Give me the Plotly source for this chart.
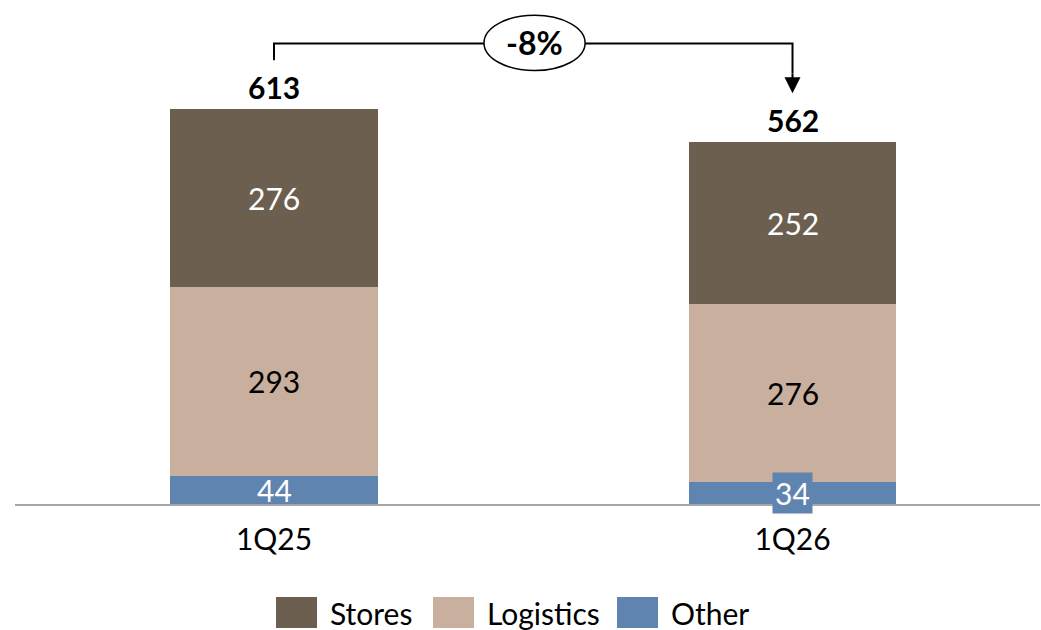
import plotly.graph_objects as go

# Quarterly breakdown by segment
quarters = ["1Q25", "1Q26"]
segments = ["Other", "Logistics", "Stores"]          # stacking order, bottom to top
other = [44, 34]
logistics = [293, 276]
stores = [276, 252]
totals = [613, 562]

colors = {"Stores": "#6C5F4F", "Logistics": "#C8AF9E", "Other": "#5F84B0"}
label_colors = {"Stores": "white", "Logistics": "black", "Other": "white"}
values = {"Other": other, "Logistics": logistics, "Stores": stores}

FONT = "Lato, 'Open Sans', sans-serif"
W, H = 1041, 630
ML, MR, MT, MB = 15, 1, 0, 126
PX_PER_UNIT = 0.644
BAR_W = 0.401

fig = go.Figure()
for name in segments:
    fig.add_trace(go.Bar(
        x=quarters, y=values[name], name=name,
        marker=dict(color=colors[name], line=dict(width=0)),
        width=BAR_W, showlegend=False, hoverinfo="skip",
    ))

# segment value labels, centred in each block; thin blocks get a
# matching background so the label stays readable past the edges
for i, q in enumerate(quarters):
    base = 0
    for name in segments:
        v = values[name][i]
        thin = v * PX_PER_UNIT < 25
        fig.add_annotation(
            x=q, y=base + v / 2, text=str(v), showarrow=False,
            font=dict(family=FONT, size=30, color=label_colors[name]),
            bgcolor=colors[name] if thin else None, borderpad=2 if thin else 0,
            xanchor="center", yanchor="middle",
        )
        base += v

# totals above each bar
for i, q in enumerate(quarters):
    fig.add_annotation(
        x=q, y=totals[i], text=f"<b>{totals[i]}</b>", showarrow=False,
        font=dict(family=FONT, size=30, color="black"),
        xanchor="center", yanchor="bottom", yshift=2,
    )

# change bracket between the two totals
bracket_y = 715
left_drop = 689
arrow_tip = 638
pct = round((totals[1] - totals[0]) / totals[0] * 100)

fig.add_shape(type="path",
              path=f"M 0 {left_drop} L 0 {bracket_y} L 1 {bracket_y} L 1 {arrow_tip + 30}",
              xref="x", yref="y", line=dict(color="black", width=2))
fig.add_annotation(x=1, y=arrow_tip, ax=1, ay=arrow_tip + 32, xref="x", yref="y",
                   axref="x", ayref="y", text="", showarrow=True,
                   arrowhead=2, arrowsize=1.6, arrowwidth=2, arrowcolor="black")
fig.add_shape(type="circle", xref="x", yref="y",
              x0=0.405, x1=0.6, y0=673, y1=759,
              fillcolor="white", line=dict(color="black", width=1.5))
fig.add_annotation(x=0.5025, y=716, xref="x", yref="y", text=f"<b>{pct}%</b>",
                   showarrow=False, font=dict(family=FONT, size=32, color="black"),
                   xanchor="center", yanchor="middle")

# legend drawn as swatches and labels below the axis
plot_w = W - ML - MR
plot_h = H - MT - MB
def px_to_paper_x(px):
    return (px - ML) / plot_w
def px_to_paper_y(py):
    return (H - MB - py) / plot_h

legend_order = ["Stores", "Logistics", "Other"]
swatch_left = [276, 433, 617]
for name, sx in zip(legend_order, swatch_left):
    fig.add_shape(type="rect", xref="paper", yref="paper",
                  x0=px_to_paper_x(sx), x1=px_to_paper_x(sx + 41),
                  y0=px_to_paper_y(628), y1=px_to_paper_y(597),
                  fillcolor=colors[name], line=dict(width=0))
    fig.add_annotation(xref="paper", yref="paper",
                       x=px_to_paper_x(sx + 52), y=px_to_paper_y(613),
                       text=name, showarrow=False, xanchor="left", yanchor="middle",
                       font=dict(family=FONT, size=30, color="black"))

fig.update_layout(
    width=W, height=H, barmode="stack",
    margin=dict(l=ML, r=MR, t=MT, b=MB),
    plot_bgcolor="white", paper_bgcolor="white",
    font=dict(family=FONT, color="black"),
    xaxis=dict(range=[-0.4995, 1.4773], showline=True, linecolor="#A6A6A6",
               linewidth=2, showgrid=False, zeroline=False, ticks="",
               tickfont=dict(family=FONT, size=30, color="black"),
               ticklabelstandoff=8),
    yaxis=dict(range=[0, (H - MT - MB) / PX_PER_UNIT], visible=False,
               showgrid=False, zeroline=False),
)

fig.write_html("out.html")
